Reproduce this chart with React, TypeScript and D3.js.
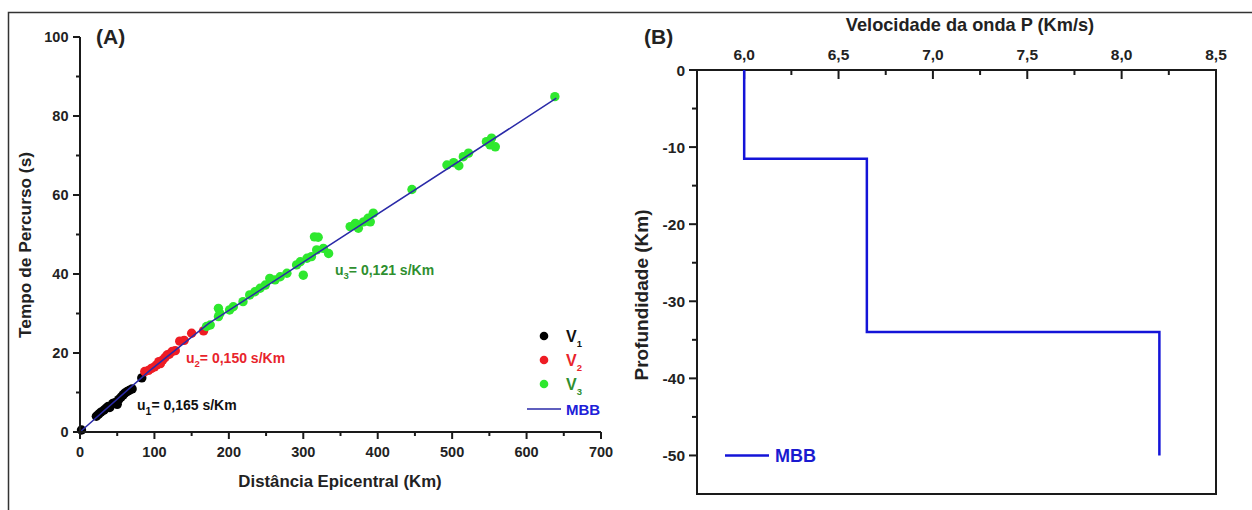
import React from 'react';
import * as d3 from 'd3';

// Panel A: travel time vs epicentral distance
const v1Points: [number, number][] = [
  [2, 0.5], [22, 4], [25, 4.5], [28, 5], [32, 5.5], [35, 6], [38, 6.5], [40, 6.2],
  [44, 7.2], [47, 7.4], [50, 7], [52, 8.2], [55, 8.8], [58, 9.4], [60, 9.8],
  [63, 10.2], [66, 10.5], [70, 10.9], [83, 13.7],
];
const v2Points: [number, number][] = [
  [87, 15.3], [92, 15.6], [96, 16.1], [100, 16.5], [103, 17], [106, 17.8], [108, 17.3],
  [111, 18.2], [114, 18.8], [117, 19.5], [120, 19.7], [124, 20.4], [128, 20.6],
  [134, 23], [140, 23.2], [150, 25], [166, 25.6],
];
const v3Points: [number, number][] = [
  [170, 26.7], [175, 27.1], [186, 31.3], [188, 30], [186, 29.2], [201, 30.9], [206, 31.7],
  [219, 33], [228, 34.7], [235, 35.5], [242, 36.4], [249, 37.2], [255, 38.9], [262, 38.5],
  [269, 39.3], [278, 40.2], [291, 42.3], [300, 39.7], [296, 43.1], [305, 44], [311, 44.4],
  [318, 46.1], [315, 49.4], [320, 49.3], [327, 46.5], [334, 45.2], [363, 52], [370, 52.8],
  [374, 51.6], [381, 53.2], [387, 54.1], [390, 53.2], [394, 55.4], [446, 61.4], [493, 67.6],
  [502, 68.2], [509, 67.4], [515, 69.7], [522, 70.6], [546, 73.5], [551, 72.7], [553, 74.4],
  [558, 72.2], [638, 84.9],
];
const mbbTravel: [number, number][] = [[0, 0], [92, 15.3], [173, 27.5], [640, 84.5]];

const distTicks = [0, 100, 200, 300, 400, 500, 600, 700];
const timeTicks = [0, 20, 40, 60, 80, 100];

// Panel B: P-wave velocity model
const mbbModel: [number, number][] = [
  [6.0, 0], [6.0, -11.5], [6.65, -11.5], [6.65, -34], [8.2, -34], [8.2, -50],
];
const velTicks = [6.0, 6.5, 7.0, 7.5, 8.0, 8.5];
const depthTicks = [0, -10, -20, -30, -40, -50];

const FONT = '"Liberation Sans", Arial, sans-serif';
const AXIS = '#1a1a1a';
const TXT = '#222';
const fmtComma = (v: number) => v.toFixed(1).replace('.', ',');

export default function App() {
  // panel A scales
  const xA = d3.scaleLinear().domain([0, 700]).range([80, 601]);
  const yA = d3.scaleLinear().domain([0, 100]).range([432, 37]);
  const lineA = d3.line<[number, number]>().x(d => xA(d[0])).y(d => yA(d[1]));

  // panel B scales
  const xB = d3.scaleLinear().domain([5.75, 8.5]).range([697, 1216]);
  const yB = d3.scaleLinear().domain([-55, 0]).range([494, 70]);
  const lineB = d3.line<[number, number]>().x(d => xB(d[0])).y(d => yB(d[1]));

  const minorDist = d3.range(50, 700, 100);
  const minorTime = d3.range(10, 100, 20);
  const minorVel = d3.range(6.25, 8.5, 0.5);
  const minorDepth = d3.range(-5, -55, -10);

  const dots = (pts: [number, number][], color: string) =>
    pts.map((d, i) => <circle key={color + i} cx={xA(d[0])} cy={yA(d[1])} r={4.7} fill={color} />);

  return (
    <svg width={1252} height={510} style={{ position: 'absolute', left: 0, top: 0 }} fontFamily={FONT}>
      <rect x={0} y={0} width={1252} height={510} fill="#fff" />
      <rect x={8.5} y={12.5} width={1260} height={520} fill="none" stroke="#333" strokeWidth={1.5} />

      {/* ---------- Panel A ---------- */}
      <text x={96} y={44} fontSize={21} fontWeight="bold" fill={TXT}>(A)</text>

      {dots(v1Points, '#000')}
      {dots(v2Points, '#ee1c24')}
      {dots(v3Points, '#2ee82e')}
      <path d={lineA(mbbTravel) || ''} fill="none" stroke="#2a2aa8" strokeWidth={1.5} />

      {/* axes */}
      <line x1={xA(0)} x2={xA(700)} y1={yA(0)} y2={yA(0)} stroke={AXIS} strokeWidth={2} />
      <line x1={xA(0)} x2={xA(0)} y1={yA(0) + 1} y2={yA(100)} stroke={AXIS} strokeWidth={2} />
      {distTicks.map(t => (
        <g key={'dx' + t}>
          <line x1={xA(t)} x2={xA(t)} y1={yA(0)} y2={yA(0) + 7} stroke={AXIS} strokeWidth={2} />
          <text x={xA(t)} y={457} fontSize={14.5} fontWeight="bold" textAnchor="middle" fill={TXT}>{t}</text>
        </g>
      ))}
      {minorDist.map(t => (
        <line key={'mdx' + t} x1={xA(t)} x2={xA(t)} y1={yA(0)} y2={yA(0) + 4} stroke={AXIS} strokeWidth={2} />
      ))}
      {timeTicks.map(t => (
        <g key={'ty' + t}>
          <line x1={xA(0) - 7} x2={xA(0)} y1={yA(t)} y2={yA(t)} stroke={AXIS} strokeWidth={2} />
          <text x={68.5} y={yA(t) + 5} fontSize={14.5} fontWeight="bold" textAnchor="end" fill={TXT}>{t}</text>
        </g>
      ))}
      {minorTime.map(t => (
        <line key={'mty' + t} x1={xA(0) - 4} x2={xA(0)} y1={yA(t)} y2={yA(t)} stroke={AXIS} strokeWidth={2} />
      ))}
      <text x={340} y={487} fontSize={16.8} fontWeight="bold" textAnchor="middle" fill={TXT}>Distância Epicentral (Km)</text>
      <text transform={`translate(31,245) rotate(-90)`} fontSize={17.3} fontWeight="bold" textAnchor="middle" fill={TXT}>Tempo de Percurso (s)</text>

      {/* annotations */}
      <text x={137} y={410} fontSize={14} fontWeight="bold" fill="#111">
        u<tspan fontSize={10.5} dy={5}>1</tspan><tspan dy={-5}>= 0,165 s/Km</tspan>
      </text>
      <text x={186} y={363} fontSize={14} fontWeight="bold" fill="#e8242c">
        u<tspan fontSize={9.5} dy={4}>2</tspan><tspan dy={-4}>= 0,150 s/Km</tspan>
      </text>
      <text x={335} y={275} fontSize={14} fontWeight="bold" fill="#2f8f2f">
        u<tspan fontSize={9.5} dy={4}>3</tspan><tspan dy={-4}>= 0,121 s/Km</tspan>
      </text>

      {/* legend */}
      {[
        { c: '#000', t: '#111', s: '1', y: 336 },
        { c: '#ee1c24', t: '#e8242c', s: '2', y: 360 },
        { c: '#2ee82e', t: '#2f8f2f', s: '3', y: 384 },
      ].map(l => (
        <g key={'lg' + l.s}>
          <circle cx={544} cy={l.y} r={4.3} fill={l.c} />
          <text x={566} y={l.y + 6} fontSize={16} fontWeight="bold" fill={l.t}>
            V<tspan fontSize={9.5} dy={5}>{l.s}</tspan>
          </text>
        </g>
      ))}
      <line x1={527} x2={561} y1={409} y2={409} stroke="#2a2aa8" strokeWidth={1.5} />
      <text x={566} y={415} fontSize={15} fontWeight="bold" fill="#2020d8">MBB</text>

      {/* ---------- Panel B ---------- */}
      <text x={644} y={44} fontSize={21} fontWeight="bold" fill={TXT}>(B)</text>

      <rect x={xB(5.75)} y={yB(0)} width={xB(8.5) - xB(5.75)} height={yB(-55) - yB(0)} fill="none" stroke={AXIS} strokeWidth={2} />
      {velTicks.map(t => (
        <g key={'vx' + t}>
          <line x1={xB(t)} x2={xB(t)} y1={yB(0)} y2={yB(0) + 9} stroke={AXIS} strokeWidth={2} />
          <text x={xB(t)} y={59.5} fontSize={15.5} fontWeight="bold" textAnchor="middle" fill={TXT}>{fmtComma(t)}</text>
        </g>
      ))}
      {minorVel.map(t => (
        <line key={'mvx' + t} x1={xB(t)} x2={xB(t)} y1={yB(0)} y2={yB(0) + 5} stroke={AXIS} strokeWidth={2} />
      ))}
      {depthTicks.map(t => (
        <g key={'dy' + t}>
          <line x1={xB(5.75) - 8} x2={xB(5.75)} y1={yB(t)} y2={yB(t)} stroke={AXIS} strokeWidth={2} />
          <text x={685} y={yB(t) + 5.5} fontSize={15.5} fontWeight="bold" textAnchor="end" fill={TXT}>{t}</text>
        </g>
      ))}
      {minorDepth.map(t => (
        <line key={'mdy' + t} x1={xB(5.75) - 5} x2={xB(5.75)} y1={yB(t)} y2={yB(t)} stroke={AXIS} strokeWidth={2} />
      ))}
      <text x={970} y={31} fontSize={18.2} fontWeight="bold" textAnchor="middle" fill={TXT}>Velocidade da onda P (Km/s)</text>
      <text transform={`translate(648,295) rotate(-90)`} fontSize={19} fontWeight="bold" textAnchor="middle" fill={TXT}>Profundidade (Km)</text>

      <path d={lineB(mbbModel) || ''} fill="none" stroke="#1414d8" strokeWidth={2.5} />

      <line x1={725} x2={769} y1={yB(-50)} y2={yB(-50)} stroke="#1414d8" strokeWidth={2.5} />
      <text x={775} y={yB(-50) + 6.5} fontSize={18} fontWeight="bold" fill="#1a1ad0">MBB</text>
    </svg>
  );
}
